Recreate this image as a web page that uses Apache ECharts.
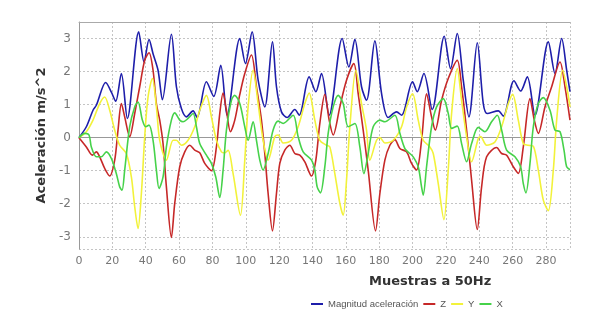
<!DOCTYPE html>
<html>
<head>
<meta charset="utf-8">
<script src="https://cdn.jsdelivr.net/npm/echarts@6/dist/echarts.min.js"></script>
<style>
  html, body { margin: 0; padding: 0; background: #fff; }
  #main { width: 603px; height: 324px; }
</style>
</head>
<body>
<div id="main"></div>
<script>
  // valores: [muestra, aceleracion]
  const magnitud = [[0,0],[4.4,0.33],[8.4,0.83],[10.4,0.98],[16,1.67],[19.4,1.38],[22,1.1],[25.4,1.94],[29,0.58],[35.8,3.2],[39,2.29],[42,2.97],[44.4,2.54],[47.4,2.04],[50,1.15],[55.4,3.13],[58.4,1.54],[61.4,0.88],[64.4,0.63],[68.4,0.81],[70.8,0.61],[76.4,1.69],[80.8,1.25],[85,2.19],[88.8,0.68],[96.4,3.0],[99.8,2.24],[103.8,3.2],[107.4,1.74],[111.4,0.93],[116,2.9],[118.4,1.54],[121.4,0.78],[124.8,0.61],[129.4,0.85],[132,0.68],[138,1.84],[142,1.39],[145.4,1.94],[150,0.68],[157.8,3.0],[161.8,2.14],[165.4,2.98],[169.4,1.54],[172.4,1.13],[177.4,2.93],[181.4,1.34],[185.4,0.61],[190.4,0.78],[193.4,0.68],[200,1.69],[202.8,1.39],[206.8,1.94],[211.8,0.85],[219,3.07],[222.8,2.09],[226.8,3.15],[230.4,1.74],[233.8,0.63],[238.8,2.87],[242.4,1.03],[244.8,0.73],[251.4,0.81],[254.4,0.65],[260.8,1.72],[264.8,1.41],[268.8,1.84],[273.4,0.68],[281.4,2.9],[285.4,1.94],[289.4,3.0],[292.4,2.04],[294.4,1.39]]
  const ejeZ = [[0,0],[4.4,-0.28],[8,-0.53],[10.4,-0.43],[12.4,-0.58],[15.4,-0.93],[18.4,-1.16],[21.4,-0.68],[23.4,0.23],[25.4,1.03],[27.4,0.63],[30.4,0.03],[33.4,0.73],[36.4,1.54],[39.4,2.34],[42,2.57],[44.4,2.04],[46.4,1.03],[48.4,0.53],[50.4,-0.18],[52.4,-1.49],[55.4,-3.02],[57.4,-1.99],[60.4,-0.88],[63.4,-0.43],[66.4,-0.23],[69.4,-0.38],[72.4,-0.46],[75.4,-0.78],[79.4,-1.0],[82.4,-0.28],[84.4,0.73],[86.4,1.35],[88.4,0.83],[90.8,0.18],[93.4,0.53],[96.4,1.3],[99.4,1.94],[103.4,2.5],[106.4,1.54],[109.4,0.53],[111.4,-0.48],[113.4,-1.69],[116,-2.82],[118.4,-1.69],[120.4,-0.78],[123.4,-0.38],[126.4,-0.23],[129.4,-0.48],[132.4,-0.53],[135.4,-0.73],[139.4,-1.16],[142,-0.68],[144.4,0.43],[147.4,1.31],[150,0.53],[152.4,0.08],[156.4,0.93],[160.4,1.74],[164.8,2.24],[167.4,1.33],[170.4,0.23],[173.4,-0.98],[177.8,-2.82],[180.4,-1.69],[183.4,-0.68],[186.4,-0.23],[189.4,-0.06],[192.4,-0.33],[196.4,-0.43],[199.4,-0.78],[202.4,-0.98],[205.4,-0.08],[208.4,1.33],[211.4,0.63],[213.6,0.23],[217.4,1.13],[221.4,1.79],[226.8,2.34],[229.4,1.54],[232.4,0.23],[235.4,-1.29],[238.8,-2.78],[241.4,-1.49],[244.4,-0.58],[250.4,-0.3],[253.4,-0.48],[256.4,-0.53],[260.4,-0.88],[263.4,-1.08],[266.4,-0.28],[270.4,1.18],[273,0.53],[275.4,0.13],[279.4,0.93],[283.4,1.54],[288.4,2.29],[291.4,1.54],[294.4,0.53]]
  const ejeY = [[0,0],[4.4,0.18],[8.4,0.53],[12.4,1.03],[15.4,1.23],[18.4,0.83],[21.4,0.23],[24.4,-0.23],[28.4,-0.48],[31.4,-1.19],[33.4,-2.09],[35.4,-2.75],[37.4,-1.69],[39.4,0.03],[41.4,1.23],[44,1.79],[46.4,0.93],[48.4,-0.08],[52.4,-0.68],[56.4,-0.08],[58.4,-0.08],[61.4,-0.23],[65.4,-0.08],[69.4,0.33],[72.4,0.83],[76.4,1.28],[79.4,0.63],[82.4,-0.08],[85.4,-0.43],[87.4,-0.46],[89.4,-0.38],[92.4,-1.09],[96.8,-2.35],[99.4,-0.68],[101.4,0.93],[104.4,2.04],[107.4,1.03],[110.4,-0.08],[113.4,-0.68],[117.4,0.03],[119.4,0.08],[122.4,-0.16],[127.4,-0.08],[131.4,0.33],[135.4,1.03],[138,1.35],[141.4,0.53],[144.4,-0.08],[148.4,-0.23],[150.4,-0.28],[153.4,-1.09],[156.4,-1.99],[158.4,-2.35],[160.4,-1.29],[162.4,0.33],[166,2.04],[169.4,1.03],[172.4,0.23],[174.4,-0.68],[178.4,-0.08],[180.4,0.0],[183.4,-0.16],[188.4,-0.08],[193.4,0.33],[196.4,0.93],[200,1.33],[203.4,0.53],[206.4,-0.08],[210.4,-0.28],[212.4,-0.48],[215.4,-1.39],[218.8,-2.48],[221.4,-0.98],[223.4,0.73],[226.8,2.09],[229.4,1.13],[232.4,0.03],[235.4,-0.73],[239.4,-0.03],[240.8,0.03],[244.4,-0.23],[249.4,-0.13],[253.4,0.33],[257.4,1.03],[260,1.31],[263.4,0.53],[266.4,-0.18],[269.4,-0.23],[272.4,-0.26],[275.4,-0.98],[278.4,-1.89],[281.4,-2.21],[284.4,-0.98],[286.4,0.53],[290,2.04],[292.4,1.54],[294.4,0.93]]
  const ejeX = [[0,0],[3.4,0.13],[6,0.08],[7.4,-0.28],[10.4,-0.58],[13.4,-0.58],[16.4,-0.43],[19.4,-0.63],[22.4,-1.09],[24.4,-1.49],[25.8,-1.59],[27.4,-0.98],[30.4,0.33],[33.4,0.93],[35.4,1.08],[38,0.53],[40,0.33],[42,0.38],[44.4,-0.08],[46.4,-0.98],[48,-1.54],[50.4,-1.19],[52.4,-0.28],[55.4,0.53],[57.4,0.75],[60.4,0.53],[62.4,0.48],[65.4,0.58],[68.4,0.73],[70.4,0.33],[72.4,-0.18],[76.4,-0.53],[79.4,-0.78],[82,-1.19],[84.4,-1.81],[86.4,-0.98],[88.4,0.23],[91.4,1.13],[93.4,1.28],[96.4,1.03],[99.4,0.33],[101.4,-0.08],[104.4,0.48],[106.4,-0.08],[108.4,-0.68],[110.4,-0.98],[113.4,-0.48],[116.4,0.23],[119.4,0.5],[122.4,0.43],[128.4,0.68],[131.4,0.03],[134.4,-0.43],[139.4,-0.68],[141.4,-0.98],[142.8,-1.49],[144.8,-1.67],[147.4,-0.88],[149.4,0.13],[152.4,0.93],[155.4,1.28],[158.4,1.03],[161.4,0.33],[165.4,0.43],[168.4,-0.28],[170.8,-1.09],[173.4,-0.48],[176.4,0.33],[180.4,0.53],[183.4,0.48],[189.4,0.68],[192.4,0.13],[195.4,-0.33],[198.4,-0.48],[200.4,-0.58],[203.4,-0.88],[205.4,-1.49],[206.4,-1.74],[208.4,-0.88],[211.4,0.33],[214.4,0.93],[218.4,1.18],[221.4,0.73],[223.4,0.28],[226.8,0.35],[229.4,-0.18],[232.4,-0.73],[235.4,-0.18],[239.4,0.31],[243.4,0.18],[247.4,0.48],[250.8,0.68],[253.4,0.23],[256.4,-0.38],[261.4,-0.58],[264.8,-0.88],[266.4,-1.39],[268,-1.67],[270.4,-0.78],[272.4,0.33],[275.4,1.03],[278.4,1.21],[282.4,0.83],[285.4,0.23],[288.4,0.18],[290.8,-0.38],[292.4,-0.88],[294.4,-0.97]]

  const nombres = ['Magnitud aceleración', 'Z', 'Y', 'X']
  const colores = ['#1e1eaa', '#c62828', '#f2f23a', '#46d24a']
  const datos = [magnitud, ejeZ, ejeY, ejeX]

  const chart = echarts.init(document.getElementById('main'))
  const gridLine = { show: true, lineStyle: { color: '#c4c4c4', type: [2, 2], width: 1 } }

  chart.setOption({
    animation: false,
    textStyle: { fontFamily: 'DejaVu Sans' },
    grid: { left: 79, right: 33, top: 22, bottom: 75 },
    legend: {
      left: 311,
      top: 299,
      padding: 0,
      icon: 'rect',
      itemWidth: 12,
      itemHeight: 2,
      itemGap: 5,
      textStyle: {
        fontSize: 9.5,
        fontFamily: '"Liberation Sans", sans-serif',
        color: '#555'
      },
      data: nombres
    },
    graphic: [{
      type: 'text',
      left: 369,
      top: 275,
      style: { text: 'Muestras a 50Hz', font: 'bold 13px "DejaVu Sans"', fill: '#333' }
    }],
    xAxis: [{
      type: 'value',
      min: 0,
      max: 294.4,
      interval: 20,
      axisLine: { lineStyle: { color: '#999' } },
      axisTick: { show: true, length: 3, lineStyle: { color: '#999' } },
      axisLabel: { color: '#777', fontSize: 11, margin: 7, showMaxLabel: false },
      splitLine: gridLine
    }, {
      type: 'value',
      position: 'top',
      min: 0,
      max: 294.4,
      axisLine: { show: true, lineStyle: { color: '#aaa' } },
      axisTick: { show: false },
      axisLabel: { show: false },
      splitLine: { show: false }
    }],
    yAxis: {
      type: 'value',
      min: -3.37,
      max: 3.5,
      splitNumber: 7,
      name: 'Aceleración m/s^2',
      nameLocation: 'middle',
      nameGap: 27,
      nameTextStyle: { fontSize: 13, fontWeight: 'bold', color: '#333' },
      axisLine: { show: true, lineStyle: { color: '#999' } },
      axisTick: { show: false },
      axisLabel: { color: '#777', fontSize: 12, margin: 8, showMinLabel: false, showMaxLabel: false },
      splitLine: gridLine
    },
    series: datos.map((d, i) => ({
      name: nombres[i],
      type: 'line',
      data: d,
      smooth: 0.3,
      symbol: 'none',
      color: colores[i],
      lineStyle: { width: 1.6, color: colores[i] }
    }))
  })
</script>
</body>
</html>
